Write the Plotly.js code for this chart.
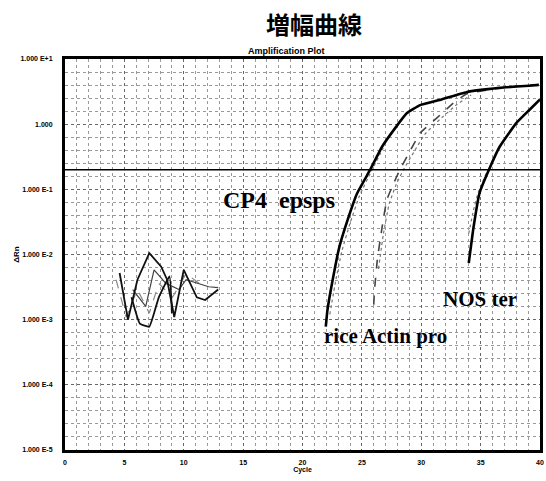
<!DOCTYPE html>
<html>
<head>
<meta charset="utf-8">
<script src="https://cdn.plot.ly/plotly-3.0.1.min.js"></script>
<style>html,body{margin:0;padding:0;background:#fff;}#chart{width:546px;height:481px;}</style>
</head>
<body>
<div id="chart"></div>
<script>
// ---- data ----
const cp4Cycles = [21.96, 22.1, 22.7, 23.1, 23.8, 24.6, 25.7, 26.7, 27.8, 28.8, 29.9, 31.7, 33.8, 36.6, 39.9];
const cp4Values = [7.8e-4, 1.4e-3, 5.8e-3, 0.013, 0.034, 0.087, 0.20, 0.45, 0.87, 1.48, 1.96, 2.4, 3.1, 3.6, 4.0];
const cp4RepCycles = [22.3, 22.8, 23.3, 24.0, 24.8, 25.8, 26.8];
const cp4RepValues = [1.2e-3, 4.0e-3, 0.011, 0.030, 0.080, 0.19, 0.43];

const actinCycles = [26.0, 26.05, 26.3, 26.7, 27.1, 27.7, 28.2, 29.1, 29.9, 31.3, 32.7, 33.8, 36.6, 39.9];
const actinValues = [1.7e-3, 2.6e-3, 8.3e-3, 0.026, 0.069, 0.126, 0.20, 0.40, 0.73, 1.24, 2.1, 2.9, 3.6, 4.1];
const actinRepCycles = [26.4, 26.8, 27.3, 27.9, 28.5, 29.4, 30.3, 31.6, 33.0, 34.2];
const actinRepValues = [6.0e-3, 0.020, 0.060, 0.12, 0.20, 0.38, 0.70, 1.2, 2.0, 2.8];

const nosCycles = [34.0, 34.4, 34.9, 35.7, 36.6, 38.0, 39.1, 40.0];
const nosValues = [7.4e-3, 0.026, 0.087, 0.20, 0.45, 1.04, 1.65, 2.4];
const nosRepCycles = [34.0, 34.4, 34.8, 35.5];
const nosRepValues = [0.021, 0.048, 0.09, 0.18];

const noise1Cycles = [4.6, 5.3, 6.1, 7.1, 8.1, 8.6, 9.2, 10.0, 11.1, 11.8, 12.9];
const noise1Values = [5.2e-3, 1.0e-3, 4.1e-3, 0.0105, 6.5e-3, 4.1e-3, 1.1e-3, 5.8e-3, 2.2e-3, 2.0e-3, 2.9e-3];
const noise2Cycles = [5.6, 6.3, 7.1, 7.9, 8.8, 9.0];
const noise2Values = [2.2e-3, 8.7e-4, 7.8e-4, 2.2e-3, 4.6e-3, 1.26e-3];
const noise3Cycles = [4.3, 5.15, 6.1, 7.1, 7.9, 9.05, 10.2, 11.3];
const noise3Values = [4.1e-3, 1.1e-3, 2.9e-3, 1.26e-3, 3.6e-3, 2.2e-3, 5.1e-3, 3.6e-3];
const noise4Cycles = [5.7, 6.8, 7.5, 8.5, 9.6, 10.2, 12.1, 12.9];
const noise4Values = [2.9e-3, 1.6e-3, 5.8e-3, 3.6e-3, 2.9e-3, 4.1e-3, 3.2e-3, 3.1e-3];

const thresholdCycles = [0, 40];
const thresholdValues = [0.2, 0.2];

const yTickVals = [10, 1, 0.1, 0.01, 0.001, 1e-4, 1e-5];
const yTickText = ["1.000 E+1", "1.000", "1.000 E-1", "1.000 E-2", "1.000 E-3", "1.000 E-4", "1.000 E-5"];
const xTickVals = [0, 5, 10, 15, 20, 25, 30, 35, 40];
const xTickText = ["0", "5", "10", "15", "20", "25", "30", "35", "40"];

const mainTitle = "増幅曲線";
const plotTitle = "Amplification Plot";
const labelCP4 = "CP4  epsps";
const labelActin = "rice Actin pro";
const labelNOS = "NOS ter";

// ---- traces ----
function tr(x, y, color, width, dash, shape) {
  return {x: x, y: y, type: 'scatter', mode: 'lines',
    line: {color: color, width: width, dash: dash || 'solid', shape: shape || 'spline', smoothing: 0.35},
    hoverinfo: 'skip', showlegend: false};
}
const data = [
  tr(noise3Cycles, noise3Values, '#888', 1.2, 'dash', 'linear'),
  tr(noise4Cycles, noise4Values, '#444', 1.2, 'solid', 'linear'),
  tr(noise1Cycles, noise1Values, '#111', 1.8, 'solid', 'linear'),
  tr(noise2Cycles, noise2Values, '#111', 1.8, 'solid', 'spline'),
  tr(cp4RepCycles, cp4RepValues, '#777', 1.2, 'dot'),
  tr(actinRepCycles, actinRepValues, '#777', 1.2, 'dot'),
  tr(actinCycles, actinValues, '#444', 1.6, 'dash'),
  tr(nosRepCycles, nosRepValues, '#777', 1.2, 'dot'),
  tr(cp4Cycles, cp4Values, '#000', 2.6, 'solid'),
  tr(nosCycles, nosValues, '#000', 2.6, 'solid'),
  {x: thresholdCycles, y: thresholdValues, type: 'scatter', mode: 'lines',
   line: {color: '#000', width: 1.5}, hoverinfo: 'skip', showlegend: false}
];

const tickFont = {family: 'Liberation Sans, Arial, sans-serif', size: 7, color: '#000', weight: 'bold'};
const serif = {family: 'Liberation Serif, Times New Roman, serif', color: '#000', weight: 'bold'};

const layout = {
  width: 546, height: 481,
  margin: {l: 65, r: 6, t: 59, b: 31},
  paper_bgcolor: '#fff', plot_bgcolor: '#fff',
  title: {text: mainTitle, x: 0.575, xanchor: 'center', y: 0.946, yanchor: 'middle',
    font: {family: 'Noto Sans CJK JP, sans-serif', size: 24, color: '#000', weight: 'bold'}},
  xaxis: {
    type: 'linear', range: [0, 40], tickmode: 'array', tickvals: xTickVals, ticktext: xTickText,
    tickfont: tickFont, ticks: '', ticklabelstandoff: 4, ticklabeloverflow: 'allow',
    showline: true, linecolor: '#000', linewidth: 3, mirror: true,
    showgrid: true, gridcolor: '#666', griddash: 'dot', gridwidth: 1,
    minor: {dtick: 1, showgrid: true, gridcolor: '#999', griddash: 'dot', gridwidth: 1},
    zeroline: false,
    title: {text: 'Cycle', font: tickFont, standoff: 2}
  },
  yaxis: {
    type: 'log', range: [-5, 1], tickmode: 'array', tickvals: yTickVals, ticktext: yTickText,
    tickfont: tickFont, ticks: '', ticklabelstandoff: 8,
    showline: true, linecolor: '#000', linewidth: 3, mirror: true,
    showgrid: true, gridcolor: '#666', griddash: 'dot', gridwidth: 1,
    minor: {dtick: 0.2, showgrid: true, gridcolor: '#999', griddash: 'dot', gridwidth: 1},
    zeroline: false,
    title: {text: 'ΔRn', font: {family: 'Liberation Sans, Arial, sans-serif', size: 8, color: '#000', weight: 'bold'}, standoff: 0}
  },
  annotations: [
    {text: plotTitle, xref: 'paper', yref: 'paper', x: 0.466, y: 1.0, xanchor: 'center', yanchor: 'bottom',
     yshift: 1, showarrow: false, font: {family: 'Liberation Sans, Arial, sans-serif', size: 9, color: '#000', weight: 'bold'}},
    {text: labelCP4, xref: 'paper', yref: 'paper', x: 0.329, y: 0.639, xanchor: 'left', yanchor: 'middle',
     showarrow: false, font: Object.assign({size: 24}, serif)},
    {text: labelActin, xref: 'paper', yref: 'paper', x: 0.54, y: 0.292, xanchor: 'left', yanchor: 'middle',
     showarrow: false, font: Object.assign({size: 21}, serif)},
    {text: labelNOS, xref: 'paper', yref: 'paper', x: 0.792, y: 0.386, xanchor: 'left', yanchor: 'middle',
     showarrow: false, font: Object.assign({size: 21}, serif)}
  ]
};

Plotly.newPlot('chart', data, layout, {staticPlot: true, displayModeBar: false});
</script>
</body>
</html>
